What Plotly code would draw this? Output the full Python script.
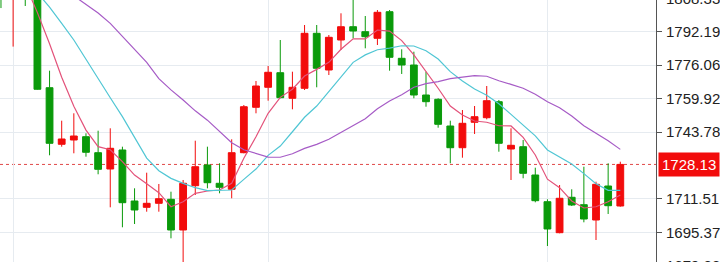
import plotly.graph_objects as go

# ---- data ----
idx = list(range(52))
opens = [1816, 1809, 1818, 1812, 1765.16, 1737.85, 1739.92, 1741.52, 1733.79, 1725.93,
         1735.1, 1710.48, 1707.44, 1709.37, 1711.3, 1696.49, 1717.87, 1727.86, 1719.03, 1716.13,
         1733.79, 1755.7, 1765.36, 1772.4, 1760.05, 1764.88, 1791.42, 1773.71, 1788.18, 1794.6,
         1792.19, 1789.0, 1801.84, 1779.35, 1776.12, 1761.64, 1759.57, 1746.68, 1736.2, 1748.47,
         1750.68, 1758.41, 1735.58, 1736.69, 1723.03, 1710.14, 1695.18, 1712.27, 1708.7, 1701.31,
         1717.72, 1708.07]
highs = [1819, 1816, 1821, 1814, 1773.37, 1749.24, 1752.81, 1743.16, 1744.41, 1745.57,
         1736.69, 1716.61, 1724.14, 1718.69, 1714.97, 1720.62, 1739.58, 1736.69, 1728.68, 1740.26,
         1756.81, 1768.4, 1775.64, 1788.18, 1772.89, 1795.42, 1795.42, 1790.6, 1801.07, 1809.0,
         1799.77, 1802.66, 1802.66, 1783.7, 1782.54, 1772.89, 1760.05, 1749.24, 1754.4, 1756.33,
         1765.98, 1759.23, 1745.57, 1739.92, 1726.55, 1711.3, 1718.2, 1716.13, 1727.04, 1719.79,
         1728.68, 1729.45]
lows = [1803.6, 1785.0, 1804.6, 1764.2, 1732.54, 1736.69, 1733.5, 1731.86, 1723.37, 1707.44,
        1697.79, 1699.38, 1705.32, 1705.32, 1692.48, 1680.0, 1713.38, 1716.61, 1714.2, 1711.79,
        1733.5, 1752.81, 1758.89, 1760.05, 1754.74, 1764.05, 1765.36, 1771.29, 1783.36, 1789.0,
        1784.18, 1785.77, 1773.37, 1771.78, 1760.05, 1755.99, 1745.86, 1728.68, 1731.38, 1742.82,
        1749.91, 1734.27, 1720.62, 1721.44, 1709.85, 1688.76, 1694.89, 1708.07, 1700.2, 1691.66,
        1704.21, 1707.73]
closes = [1809, 1813, 1810, 1764.4, 1738.33, 1740.41, 1741.85, 1733.99, 1725.78, 1735.92,
          1709.66, 1706.14, 1709.37, 1711.59, 1696.49, 1719.03, 1727.04, 1719.31, 1717.09, 1733.79,
          1755.99, 1765.98, 1772.6, 1760.34, 1765.36, 1791.42, 1774.53, 1789.49, 1794.6, 1792.53,
          1789.78, 1801.55, 1779.84, 1776.12, 1761.64, 1758.41, 1747.5, 1736.2, 1747.98, 1751.17,
          1758.89, 1738.33, 1737.36, 1723.85, 1710.63, 1696.97, 1711.79, 1708.55, 1701.79, 1718.54,
          1708.21, 1728.13]
ma_fast = [1818, 1818, 1815, 1801.4, 1786.4, 1770.2, 1756.2, 1744.7, 1736.7, 1735.2,
           1729.5, 1723.0, 1718.8, 1714.5, 1707.7, 1710.1, 1714.2, 1715.3, 1715.8, 1719.0,
           1731.1, 1741.5, 1752.8, 1760.5, 1764.4, 1770.8, 1774.0, 1777.4, 1783.7, 1788.8,
           1788.7, 1793.0, 1792.5, 1787.9, 1781.0, 1773.2, 1764.9, 1756.3, 1752.0, 1749.1,
           1748.5, 1746.8, 1746.7, 1741.2, 1732.7, 1721.0, 1716.9, 1710.5, 1707.1, 1707.7,
           1710.1, 1713.4]
ma_mid = [1828, 1824, 1818, 1811, 1804.0, 1796.2, 1788.2, 1778.9, 1769.4, 1760.3,
          1751.2, 1741.2, 1731.2, 1725.1, 1721.4, 1719.0, 1716.9, 1715.5, 1715.6, 1715.8,
          1720.9, 1725.9, 1732.5, 1737.0, 1743.9, 1750.9, 1756.3, 1763.2, 1770.2, 1777.4,
          1781.0, 1783.5, 1784.3, 1785.4, 1785.3, 1783.0, 1779.0, 1772.9, 1768.4, 1764.5,
          1761.5, 1757.4, 1752.3, 1747.0, 1741.9, 1735.1, 1731.6, 1728.3, 1723.7, 1718.8,
          1715.6, 1715.6]
ma_slow = [1821, 1820, 1818, 1816, 1814, 1812, 1809.5, 1805.2, 1801.2, 1796.2,
           1789.8, 1783.4, 1777.4, 1769.5, 1764.1, 1759.2, 1754.0, 1749.5, 1744.0, 1738.6,
           1735.2, 1733.3, 1731.7, 1731.6, 1733.3, 1735.9, 1737.8, 1740.3, 1743.6, 1746.7,
           1750.2, 1755.0, 1758.7, 1761.8, 1765.4, 1767.1, 1768.1, 1769.5, 1770.3, 1771.0,
           1770.7, 1768.5, 1766.8, 1764.9, 1762.0, 1758.4, 1755.5, 1751.5, 1746.8, 1743.3,
           1739.6, 1735.4]
ytick_vals = [1695.37, 1711.51, 1743.78, 1759.92, 1776.06, 1792.19]
edge_ticks = [1808.33, 1679.23]
last_price = 1728.13
month_marks = [1, 22, 45]

Y_MIN, Y_MAX = 1681.04, 1807.49
UP, DOWN = "#F20C0C", "#0A9A0A"
FONT = "Liberation Sans, Arial, sans-serif"
FS = 15

fig = go.Figure()
fig.add_trace(go.Candlestick(
    x=idx, open=opens, high=highs, low=lows, close=closes,
    increasing=dict(line=dict(color=UP, width=1), fillcolor=UP),
    decreasing=dict(line=dict(color=DOWN, width=1), fillcolor=DOWN),
    hoverinfo="skip", showlegend=False))
for vals, col in [(ma_fast, "#E3527A"), (ma_mid, "#50C6D4"), (ma_slow, "#A65BC6")]:
    fig.add_trace(go.Scatter(x=idx, y=vals, mode="lines",
                             line=dict(color=col, width=1.2),
                             hoverinfo="skip", showlegend=False))

fig.add_shape(type="line", xref="paper", x0=0, x1=1, yref="y",
              y0=last_price, y1=last_price,
              line=dict(color="#E04848", width=1, dash="dot"), layer="below")

fig.add_annotation(xref="paper", x=1, xshift=2, xanchor="left",
                   yref="y", y=last_price, yanchor="middle",
                   text=f"{last_price:.2f}", showarrow=False,
                   font=dict(family=FONT, size=FS, color="white"),
                   bgcolor="#F20C0C", borderpad=3, align="left")
for v in edge_ticks:
    fig.add_annotation(xref="paper", x=1, xshift=8, xanchor="left",
                       yref="paper", y=(v - Y_MIN) / (Y_MAX - Y_MIN), yanchor="middle",
                       text=f"{v:.2f}", showarrow=False,
                       font=dict(family=FONT, size=FS, color="#222"))

fig.update_layout(
    width=720, height=262, margin=dict(l=0, r=55, t=0, b=0),
    paper_bgcolor="white", plot_bgcolor="white", boxgap=0.2,
    xaxis=dict(range=[-0.08, 53.94], rangeslider=dict(visible=False),
               tickvals=month_marks, showticklabels=False, ticks="",
               showgrid=True, gridcolor="#E6EBF0", gridwidth=1, zeroline=False,
               showline=False, fixedrange=True),
    yaxis=dict(range=[Y_MIN, Y_MAX], side="right", tickvals=ytick_vals,
               ticktext=[f"{v:.2f}" for v in ytick_vals],
               ticks="outside", ticklen=5, tickcolor="#555", ticklabelstandoff=1,
               showgrid=True, gridcolor="#E6EBF0", gridwidth=1, zeroline=False,
               showline=True, linecolor="#555", linewidth=1,
               tickfont=dict(family=FONT, size=FS, color="#222"), fixedrange=True),
)

fig.write_html("out.html", config={"displayModeBar": False})
